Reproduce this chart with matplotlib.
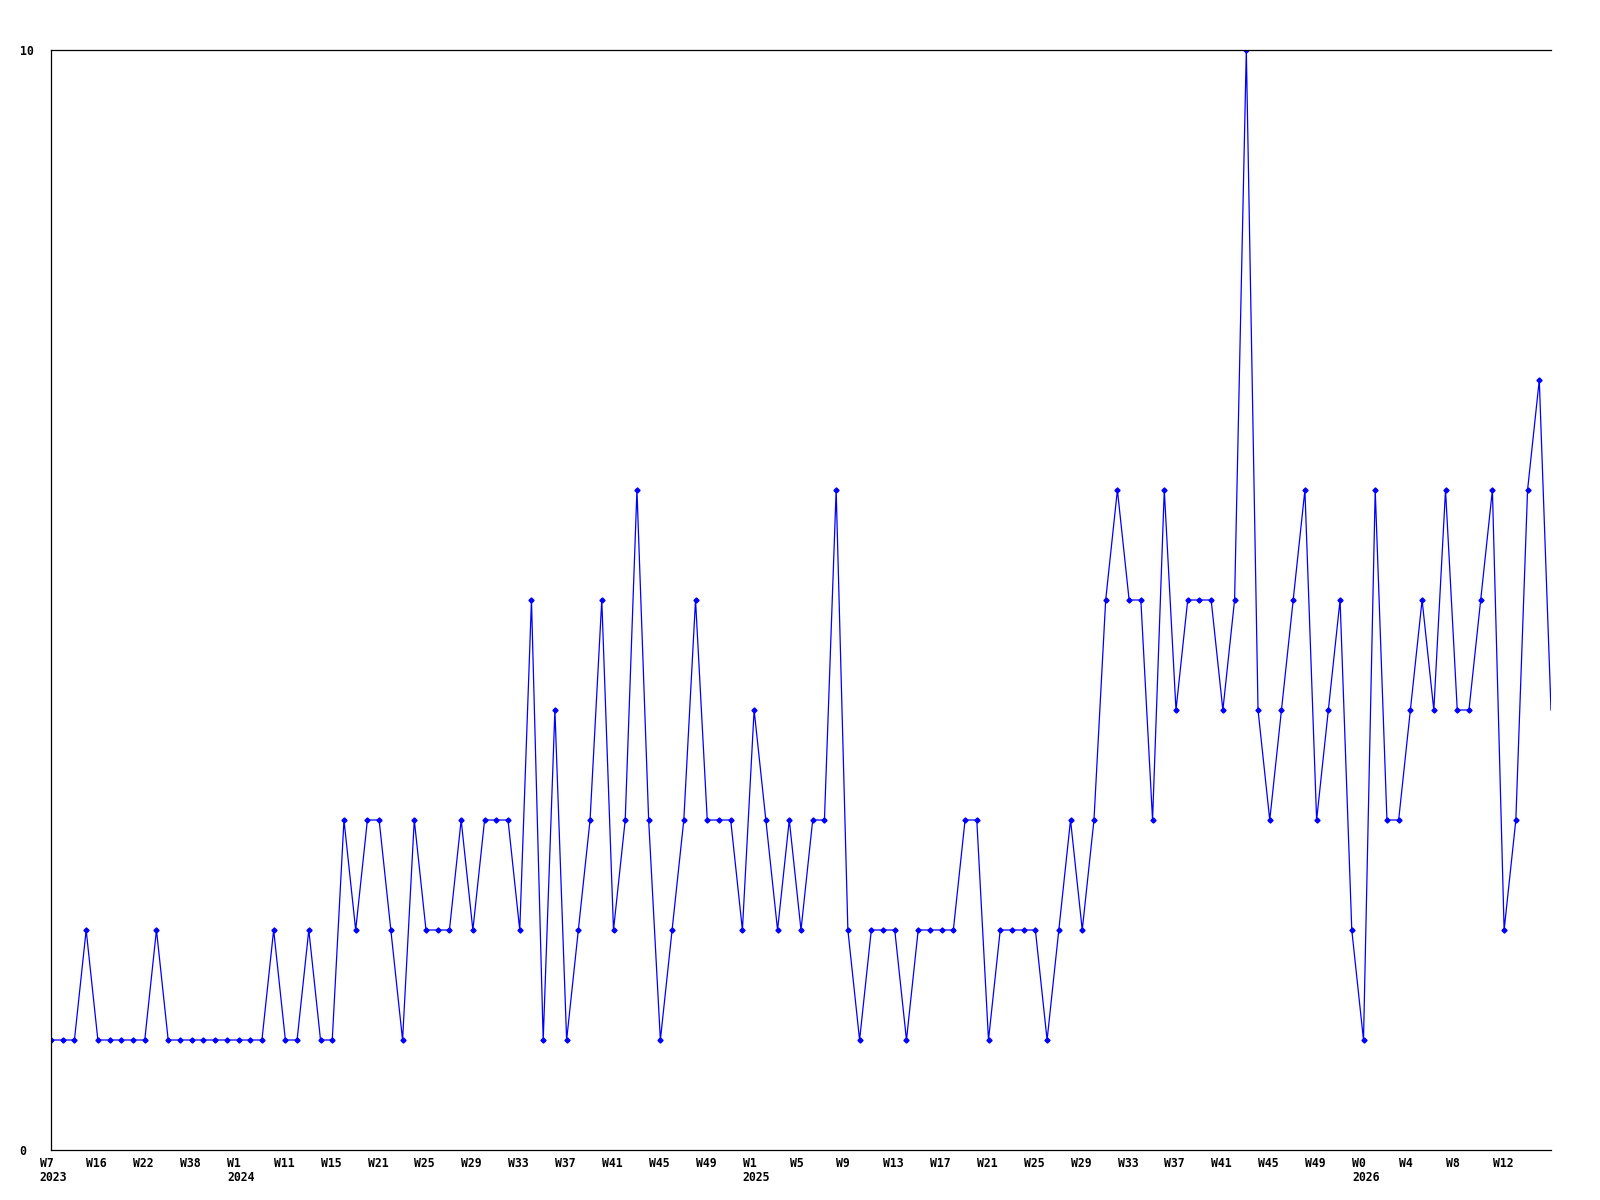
"""Weekly count line chart, 2023 W7 to 2026."""

import matplotlib
matplotlib.use("Agg")
import matplotlib.pyplot as plt
import matplotlib.transforms as mtransforms

# one value per week
counts = [
    1, 1, 1, 2, 1, 1, 1, 1, 1, 2, 1, 1, 1, 1, 1, 1, 1, 1, 1, 2,
    1, 1, 2, 1, 1, 3, 2, 3, 3, 2, 1, 3, 2, 2, 2, 3, 2, 3, 3, 3,
    2, 5, 1, 4, 1, 2, 3, 5, 2, 3, 6, 3, 1, 2, 3, 5, 3, 3, 3, 2,
    4, 3, 2, 3, 2, 3, 3, 6, 2, 1, 2, 2, 2, 1, 2, 2, 2, 2, 3, 3,
    1, 2, 2, 2, 2, 1, 2, 3, 2, 3, 5, 6, 5, 5, 3, 6, 4, 5, 5, 5,
    4, 5, 10, 4, 3, 4, 5, 6, 3, 4, 5, 2, 1, 6, 3, 3, 4, 5, 4, 6,
    4, 4, 5, 6, 2, 3, 6, 7, 4,
]

# a label every 4th week
week_labels = [
    "W7", "W16", "W22", "W38",
    "W1", "W11", "W15", "W21", "W25", "W29", "W33", "W37", "W41", "W45", "W49",
    "W1", "W5", "W9", "W13", "W17", "W21", "W25", "W29", "W33", "W37", "W41", "W45", "W49",
    "W0", "W4", "W8", "W12",
]
year_marks = {0: "2023", 4: "2024", 15: "2025", 28: "2026"}

y_ticks = [0, 10]

fig = plt.figure(figsize=(16, 12), dpi=100)
ax = fig.add_axes([51 / 1600, 50 / 1200, 1500 / 1600, 1100 / 1200])

x = list(range(len(counts)))
ax.plot(x, counts, color="#0000ff", linewidth=0.9,
        marker="D", markersize=2.6, markevery=list(range(len(counts) - 1)))

ax.set_xlim(0, len(counts) - 1)
ax.set_ylim(0, 10)

# week labels sit left-aligned, a bit to the left of their point
ax.set_xticks([])
trans = mtransforms.blended_transform_factory(ax.transData, ax.transAxes)
trans = trans + mtransforms.ScaledTranslation(-11.5 / 100, -7 / 100, fig.dpi_scale_trans)
font = dict(family="DejaVu Sans Mono", fontweight="bold", fontsize=8.3)
for i, w in enumerate(week_labels):
    txt = w + "\n" + year_marks[i] if i in year_marks else w
    ax.text(4 * i, 0, txt, transform=trans, ha="left", va="top",
            linespacing=1.08, clip_on=False, **font)

ax.set_yticks(y_ticks)
ax.set_yticklabels([str(v) for v in y_ticks], ha="left", **font)
ax.tick_params(axis="y", length=0, pad=22.5)

ax.spines["right"].set_visible(False)
for s in ("left", "bottom", "top"):
    ax.spines[s].set_linewidth(0.9)
    ax.spines[s].set_color("black")

fig.savefig("out.png", dpi=100)
